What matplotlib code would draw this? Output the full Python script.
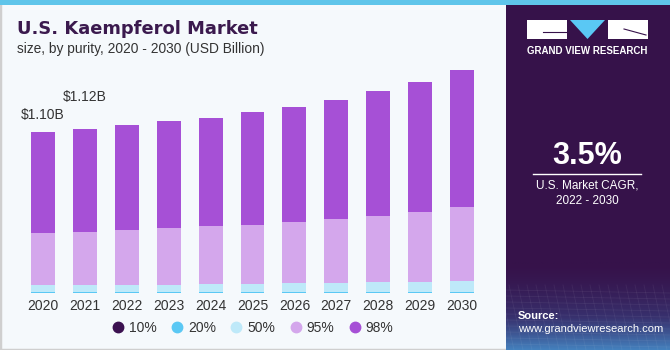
import numpy as np
import matplotlib
matplotlib.use("Agg")
from matplotlib import pyplot as plt
from matplotlib.lines import Line2D
from matplotlib.patches import Rectangle, Polygon

# data (USD billion)
years = ["2020", "2021", "2022", "2023", "2024", "2025", "2026", "2027", "2028", "2029", "2030"]
purity_labels = ["10%", "20%", "50%", "95%", "98%"]
p10 = [0.004, 0.004, 0.004, 0.004, 0.004, 0.004, 0.004, 0.004, 0.004, 0.004, 0.004]
p20 = [0.006, 0.006, 0.006, 0.006, 0.006, 0.006, 0.006, 0.006, 0.006, 0.006, 0.006]
p50 = [0.045, 0.045, 0.049, 0.049, 0.051, 0.056, 0.060, 0.060, 0.065, 0.067, 0.072]
p95 = [0.354, 0.365, 0.371, 0.384, 0.396, 0.402, 0.416, 0.437, 0.454, 0.480, 0.505]
p98 = [0.691, 0.700, 0.716, 0.730, 0.743, 0.767, 0.789, 0.816, 0.849, 0.889, 0.938]
value_labels = {0: "$1.10B", 1: "$1.12B"}
label_offsets = {0: 7, 1: 18}

colors = ["#3b1150", "#5ac8f4", "#bee9f9", "#d4a7ec", "#a650d6"]

plt.rcParams['font.family'] = ['Liberation Sans', 'DejaVu Sans']

W, H = 670, 350
fig = plt.figure(figsize=(W / 100, H / 100), dpi=100)
fig.patch.set_facecolor("#f5f9fc")

# background decoration axes in pixel coordinates
bg = fig.add_axes([0, 0, 1, 1])
bg.set_xlim(0, W)
bg.set_ylim(H, 0)
bg.axis("off")
bg.add_patch(Rectangle((0, 0), W, H, facecolor="#f5f9fc", edgecolor="#cfcfcf", lw=2.5))
bg.add_patch(Rectangle((506, 0), W - 506, H, facecolor="#36124a", edgecolor="none"))
# gradient at the bottom of the side panel
grad = np.linspace(0, 1, 100).reshape(-1, 1) ** 1.5
cmap = matplotlib.colors.LinearSegmentedColormap.from_list("g", ["#36124a", "#38316e", "#4480bd"])
bg.imshow(grad, extent=(506, W, H, 262), cmap=cmap, aspect="auto", zorder=1)
for yy in np.arange(290, 350, 6):
    bg.plot([506, W], [yy, yy + 3], color="white", alpha=0.06, lw=0.6, zorder=2)
for xx in np.arange(500, 680, 9):
    bg.plot([xx, xx + 14], [285, 350], color="white", alpha=0.06, lw=0.6, zorder=2)
bg.add_patch(Rectangle((0, 0), W, 4.5, facecolor="#5fc5ea", edgecolor="none", zorder=3))

# logo
bg.add_patch(Rectangle((527, 20), 40, 19, facecolor="white", edgecolor="none", zorder=3))
bg.add_patch(Rectangle((608, 20), 40, 19, facecolor="white", edgecolor="none", zorder=3))
bg.add_patch(Polygon([(570, 20), (605, 20), (587.5, 39)], closed=True, facecolor="#5ac8f4", edgecolor="none", zorder=3))
bg.plot([543, 567], [32, 32], color="#36124a", lw=0.8, zorder=4)
bg.plot([624, 646], [29, 35], color="#36124a", lw=0.8, zorder=4)
bg.text(587.5, 51, "GRAND VIEW RESEARCH", color="white", fontsize=7, fontweight="bold",
        ha="center", va="center", zorder=4)

bg.text(587, 156, "3.5%", color="white", fontsize=22, fontweight="bold", ha="center", va="center", zorder=4)
bg.plot([533, 641], [173.5, 173.5], color="white", lw=1, zorder=4)
bg.text(587, 186, "U.S. Market CAGR,", color="white", fontsize=8.5, ha="center", va="center", zorder=4)
bg.text(587, 201, "2022 - 2030", color="white", fontsize=8.5, ha="center", va="center", zorder=4)
bg.text(518, 316, "Source:", color="white", fontsize=8, fontweight="bold", ha="left", va="center", zorder=4)
bg.text(518, 329.5, "www.grandviewresearch.com", color="white", fontsize=8, ha="left", va="center", zorder=4)

bg.text(17, 29, "U.S. Kaempferol Market", color="#3b1a4e", fontsize=12.9, fontweight="heavy",
        family=["DejaVu Sans"], ha="left", va="center")
bg.text(17, 49, "size, by purity, 2020 - 2030 (USD Billion)", color="#333333", fontsize=9.9,
        ha="left", va="center")

# chart axes
ax = fig.add_axes([17.9 / W, (H - 293.3) / H, (487.1 - 17.9) / W, 249 / H])
ax.patch.set_alpha(0)
x = np.arange(len(years))
bottom = np.zeros(len(years))
for vals, col, lab in zip([p10, p20, p50, p95, p98], colors, purity_labels):
    ax.bar(x, vals, width=0.57, bottom=bottom, color=col, label=lab, zorder=2)
    bottom = bottom + np.array(vals)

for i, txt in value_labels.items():
    ax.annotate(txt, (x[i], bottom[i]), xytext=(0, label_offsets[i]), textcoords="offset points",
                ha="center", va="bottom", fontsize=10, color="#333333")

ax.set_xlim(-0.6, 10.6)
ax.set_ylim(0, 1.7)
ax.set_xticks(x)
ax.set_xticklabels(years, fontsize=10, color="#333333")
ax.tick_params(axis="x", length=0, pad=4)
ax.set_yticks([])
for s in ax.spines.values():
    s.set_visible(False)

handles = [Line2D([], [], marker="o", ls="none", markersize=7.5, markerfacecolor=c,
                  markeredgecolor=c) for c in colors]
fig.legend(handles, purity_labels, loc="center", bbox_to_anchor=(253 / W, (H - 328) / H), ncol=5,
           frameon=False, fontsize=10, handlelength=0.8, handletextpad=0.4, columnspacing=1.05,
           labelcolor="#333333")

fig.savefig("out.png", dpi=100, facecolor=fig.get_facecolor())
